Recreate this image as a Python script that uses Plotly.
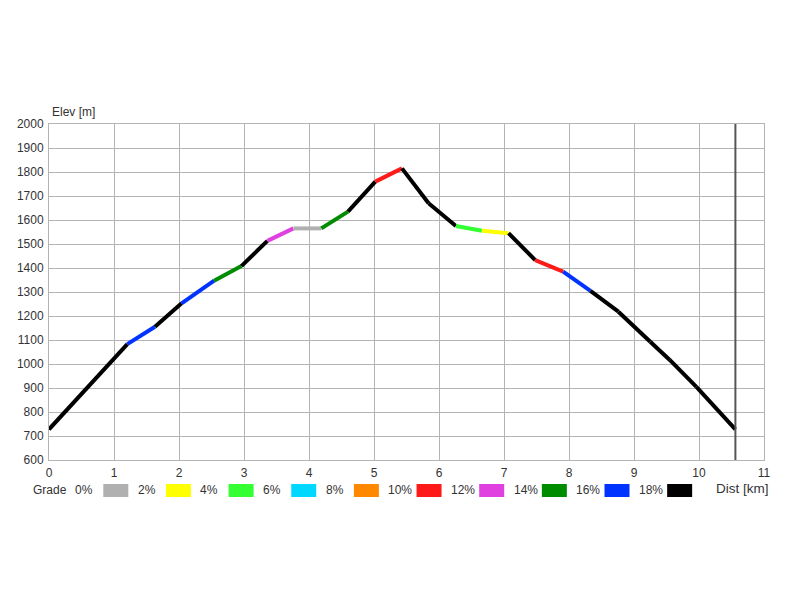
import plotly.graph_objects as go

# ---- data ----
dist_km = [0.0, 1.205, 1.63, 2.04, 2.54, 2.96, 3.36, 3.76, 4.19, 4.60, 5.02, 5.43,
           5.84, 6.26, 6.66, 7.07, 7.48, 7.91, 8.33, 8.76, 9.25, 9.55, 9.96, 10.56]
elev_m = [728, 1083, 1155, 1253, 1347, 1408, 1513, 1565, 1565, 1635, 1760, 1815,
          1670, 1575, 1555, 1545, 1433, 1385, 1305, 1218, 1093, 1017, 905, 728]
# grade class (index into grade_labels) of each segment between consecutive points
segment_class = [9, 8, 9, 8, 7, 9, 6, 0, 7, 9, 5, 9,
                 9, 2, 1, 9, 5, 8, 9, 9, 9, 9, 9]
grade_labels = ["0%", "2%", "4%", "6%", "8%", "10%", "12%", "14%", "16%", "18%"]
grade_colors = ["#b0b0b0", "#ffff00", "#33ff33", "#00d8ff", "#ff8800",
                "#ff1a1a", "#e040e0", "#008c00", "#0033ff", "#000000"]
x_ticks = list(range(0, 12))
y_ticks = list(range(600, 2001, 100))

FONT = "Liberation Sans, Arial, sans-serif"
TXT = "#333333"
GRID = "#b4b4b4"
OFF = 8  # browser body margin

fig = go.Figure()
for i, c in enumerate(segment_class):
    fig.add_trace(go.Scatter(
        x=dist_km[i:i + 2], y=elev_m[i:i + 2], mode="lines",
        line=dict(color=grade_colors[c], width=4),
        showlegend=False, hoverinfo="skip"))

# end-of-track marker line
fig.add_shape(type="line", xref="x", yref="paper", x0=dist_km[-1], x1=dist_km[-1],
              y0=0, y1=1, line=dict(color="#555555", width=2))

# plot area in page pixels
L, R, T, B = 49, 764, 124, 460
W = R - L
H = B - T


def px(xp):
    return (xp - L) / W


def py(yp):
    return (B - yp) / H


annotations = [
    dict(text="Elev [m]", xref="paper", yref="paper", x=px(50), y=py(121),
         xanchor="left", yanchor="bottom", showarrow=False,
         font=dict(family=FONT, size=12, color=TXT)),
    dict(text="Grade", xref="paper", yref="paper", x=px(31), y=py(490),
         xanchor="left", yanchor="middle", showarrow=False,
         font=dict(family=FONT, size=12, color=TXT)),
    dict(text="Dist [km]", xref="paper", yref="paper", x=px(714), y=py(488),
         xanchor="left", yanchor="middle", showarrow=False,
         font=dict(family=FONT, size=13.5, color=TXT)),
]
for k, lab in enumerate(grade_labels):
    annotations.append(dict(text=lab, xref="paper", yref="paper",
                            x=px(73 + 62.65 * k), y=py(490),
                            xanchor="left", yanchor="middle", showarrow=False,
                            font=dict(family=FONT, size=12, color=TXT)))
    bx = 103.3 + 62.65 * k
    fig.add_shape(type="rect", xref="paper", yref="paper",
                  x0=px(bx), x1=px(bx + 25), y0=py(497), y1=py(484),
                  fillcolor=grade_colors[k], line=dict(width=0))

fig.update_layout(
    width=800, height=600,
    margin=dict(l=L - OFF, r=800 - R + OFF, t=T - OFF, b=600 - B + OFF, autoexpand=False),
    plot_bgcolor="white", paper_bgcolor="white",
    annotations=annotations,
    font=dict(family=FONT, size=12, color=TXT),
)
fig.update_xaxes(range=[0, 11], tickvals=x_ticks, ticktext=[str(v) for v in x_ticks],
                 showgrid=True, gridcolor=GRID, gridwidth=1,
                 showline=True, linecolor=GRID, linewidth=1, mirror=True,
                 zeroline=False, ticks="outside", ticklen=2, tickcolor="white",
                 tickfont=dict(family=FONT, size=12, color=TXT))
fig.update_yaxes(range=[600, 2000], tickvals=y_ticks, ticktext=[str(v) for v in y_ticks],
                 showgrid=True, gridcolor=GRID, gridwidth=1,
                 showline=True, linecolor=GRID, linewidth=1, mirror=True,
                 zeroline=False, ticks="outside", ticklen=2, tickcolor="white",
                 tickfont=dict(family=FONT, size=12, color=TXT))

fig.write_html("out.html")
